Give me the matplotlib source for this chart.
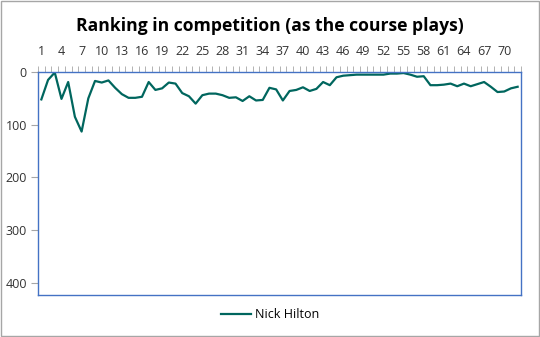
import numpy as np
import matplotlib.pyplot as plt

plt.rcParams['font.family'] = ['Open Sans', 'DejaVu Sans']

# round-by-round ranking (1 = leader)
rounds = list(range(1, 73))
ranking = [52, 15, 1, 51, 19, 85, 113, 50, 17, 20, 16, 30, 42, 49, 49, 47, 19, 34,
           31, 20, 22, 40, 46, 60, 44, 41, 41, 44, 49, 48, 55, 46, 54, 53, 30, 33,
           54, 36, 34, 29, 36, 32, 19, 25, 10, 7, 6, 5, 5, 5, 5, 5, 3, 3,
           2, 5, 9, 8, 25, 25, 24, 22, 27, 22, 27, 23, 19, 28, 38, 37, 31, 28]
player = 'Nick Hilton'
x_labels = list(range(1, 71, 3))
y_ticks = [0, 100, 200, 300, 400]

fig = plt.figure(figsize=(5.4, 3.37), dpi=100)
ax = fig.add_axes([38 / 540, 1 - 295 / 337, 483 / 540, 223 / 337])

ax.plot(rounds, ranking, color='#00665E', lw=1.6, label=player)

ax.set_xlim(0.5, 72.5)
ax.set_ylim(423, 0)

ax.xaxis.tick_top()
ax.set_xticks(x_labels)
ax.set_xticks(np.arange(0.5, 73, 1), minor=True)
ax.tick_params(axis='x', which='major', length=0, pad=10, labelsize=9, colors='#333333')
ax.tick_params(axis='x', which='minor', length=4, color='#a6a6a6', top=True, direction='out')
ax.set_yticks(y_ticks)
ax.tick_params(axis='y', length=5, color='#a6a6a6', labelsize=9, pad=3)
for lbl in ax.get_yticklabels():
    lbl.set_color('#333333')

for s in ax.spines.values():
    s.set_color('#4472C4')
    s.set_linewidth(1)

fig.suptitle('Ranking in competition (as the course plays)', y=0.95,
             fontsize=12.6, fontweight='bold', color='black')

fig.legend(loc='center', bbox_to_anchor=(0.5, 1 - 315 / 337), frameon=False,
           fontsize=9, handlelength=2.4, handletextpad=0.3)

# outer chart border
fig.patches.append(plt.Rectangle((0.001, 0.002), 0.997, 0.995, transform=fig.transFigure,
                                 fill=False, edgecolor='#a6a6a6', lw=1))

fig.savefig('out.png', dpi=100)
